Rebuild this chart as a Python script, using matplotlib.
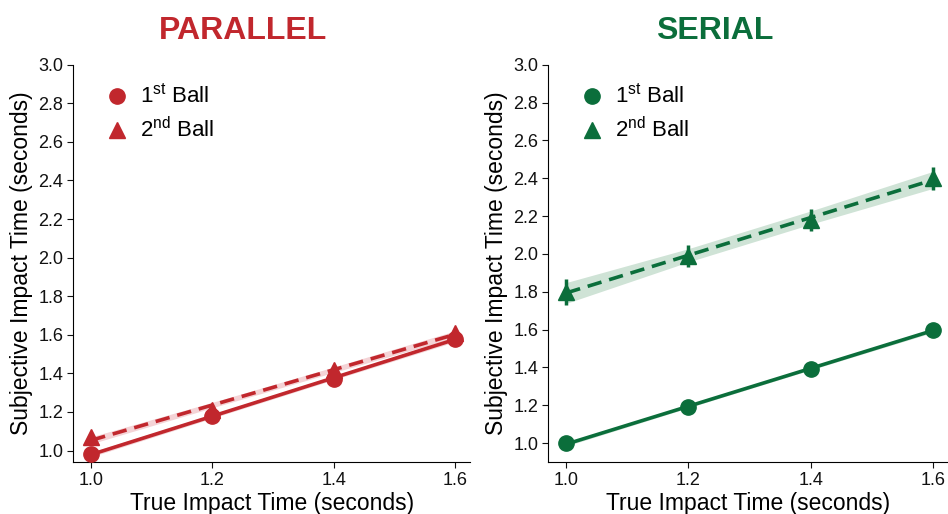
import matplotlib
matplotlib.use('Agg')
import matplotlib.pyplot as plt
import numpy as np

plt.rcParams['font.family'] = ['Liberation Sans', 'DejaVu Sans']
plt.rcParams['mathtext.fontset'] = 'custom'
plt.rcParams['mathtext.rm'] = 'Liberation Sans'

# data
true_time = [1.0, 1.2, 1.4, 1.6]

par_first = [0.98, 1.18, 1.37, 1.58]
par_second = [1.07, 1.21, 1.42, 1.61]
par_first_err = [0.01, 0.01, 0.01, 0.01]
par_second_err = [0.01, 0.01, 0.01, 0.01]
par_first_ci = [0.012, 0.010, 0.010, 0.012]
par_second_ci = [0.018, 0.014, 0.014, 0.018]

ser_first = [1.00, 1.19, 1.39, 1.60]
ser_second = [1.80, 1.99, 2.18, 2.40]
ser_first_err = [0.01, 0.01, 0.01, 0.01]
ser_second_err = [0.07, 0.06, 0.06, 0.06]
ser_first_ci = [0.010, 0.008, 0.008, 0.010]
ser_second_ci = [0.055, 0.035, 0.035, 0.045]

RED = '#C1272D'
GREEN = '#0B6E3B'


def draw_panel(ax, color, band, first, second, e1, e2, ci1, ci2, ylim):
    x = np.array(true_time)
    xx = np.linspace(1.0, 1.6, 50)
    for y, ci, ls in [(second, ci2, '--'), (first, ci1, '-')]:
        k, b = np.polyfit(x, y, 1)
        fit = k * xx + b
        half = np.interp(xx, x, ci)
        ax.fill_between(xx, fit - half, fit + half, color=band, lw=0, zorder=1)
        ax.plot(xx, fit, ls=ls, color=color, lw=2.6, zorder=2,
                dashes=(4, 2.2) if ls == '--' else (None, None))
    ax.errorbar(x, second, yerr=e2, fmt='^', ms=11, color=color, elinewidth=2.5,
                capsize=0, zorder=3)
    ax.errorbar(x, first, yerr=e1, fmt='o', ms=11, color=color, elinewidth=2.5,
                capsize=0, zorder=4)

    ax.set_xlim(0.97, 1.625)
    ax.set_ylim(*ylim)
    ax.set_xticks([1.0, 1.2, 1.4, 1.6])
    ax.set_xticklabels(['1.0', '1.2', '1.4', '1.6'])
    ax.set_yticks(np.arange(1.0, 3.01, 0.2))
    ax.set_yticklabels([f'{v:.1f}' for v in np.arange(1.0, 3.01, 0.2)])
    ax.spines['top'].set_visible(False)
    ax.spines['right'].set_visible(False)
    ax.spines['left'].set_bounds(ylim[0], 3.0)
    ax.tick_params(labelsize=13, length=4, width=0.8, colors='#111111', pad=3)
    ax.set_xlabel('True Impact Time (seconds)', fontsize=16.5, labelpad=2)
    ax.set_ylabel('Subjective Impact Time (seconds)', fontsize=16.5, labelpad=4)

    # legend, placed in axes coordinates
    tr = ax.transAxes
    ax.plot([0.111], [0.922], 'o', ms=11, color=color, transform=tr, clip_on=False)
    ax.plot([0.111], [0.836], '^', ms=11, color=color, transform=tr, clip_on=False)
    ax.text(0.168, 0.922, r'1$^{\mathrm{st}}$ Ball', fontsize=16, va='center', transform=tr)
    ax.text(0.168, 0.836, r'2$^{\mathrm{nd}}$ Ball', fontsize=16, va='center', transform=tr)


fig = plt.figure(figsize=(9.48, 5.14), dpi=100)
ax1 = fig.add_axes([0.077, 0.101, 0.419, 0.773])
ax2 = fig.add_axes([0.578, 0.101, 0.422, 0.773])

draw_panel(ax1, RED, '#F4D3D6', par_first, par_second, par_first_err, par_second_err,
           par_first_ci, par_second_ci, (0.94, 3.0))
draw_panel(ax2, GREEN, '#CFE3D6', ser_first, ser_second, ser_first_err, ser_second_err,
           ser_first_ci, ser_second_ci, (0.9, 3.0))

fig.text(243 / 948, 1 - 39 / 514, 'PARALLEL', ha='center', va='baseline',
         fontsize=23, fontweight='bold', color=RED)
fig.text(715 / 948, 1 - 39 / 514, 'SERIAL', ha='center', va='baseline',
         fontsize=23, fontweight='bold', color=GREEN)

plt.savefig('out.png', dpi=100, facecolor='white')
plt.close()
